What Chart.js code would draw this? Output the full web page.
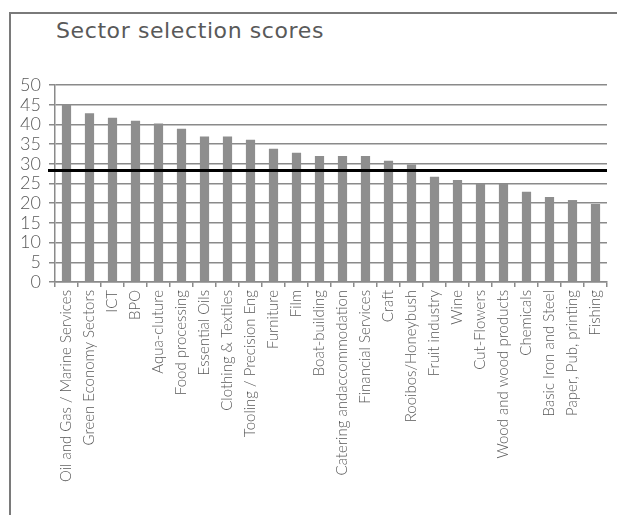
<!DOCTYPE html>
<html>
<head>
<meta charset="utf-8">
<script src="https://cdn.jsdelivr.net/npm/chart.js@4"></script>
<style>
  html, body { margin: 0; padding: 0; background: #fff; }
  #wrap { position: relative; width: 617px; height: 515px; overflow: hidden; }
  #frame { position: absolute; left: 9px; top: 12px; width: 700px; height: 600px;
           border-left: 2px solid #7a7a7a; border-top: 2px solid #7a7a7a; }
  #title { position: absolute; left: 56px; top: 18px; font: 22px "DejaVu Sans", sans-serif;
           letter-spacing: 0.6px; color: #595959; white-space: nowrap; }
  #chart { position: absolute; left: 0; top: 0; }
</style>
</head>
<body>
<div id="wrap">
  <div id="frame"></div>
  <div id="title">Sector selection scores</div>
  <canvas id="chart" width="617" height="515"></canvas>
</div>
<script>
// secteurs, tries par score
const sectors = [
  'Oil and Gas / Marine Services', 'Green Economy Sectors', 'ICT', 'BPO',
  'Aqua-cluture', 'Food processing', 'Essential Oils', 'Clothing & Textiles',
  'Tooling / Precision Eng', 'Furniture', 'Film', 'Boat-building',
  'Catering andaccommodation', 'Financial Services', 'Craft', 'Rooibos/Honeybush',
  'Fruit industry', 'Wine', 'Cut-Flowers', 'Wood and wood products',
  'Chemicals', 'Basic Iron and Steel', 'Paper, Pub, printing', 'Fishing'
];
const scores = [
  45.1, 42.8, 41.7, 40.9, 40.2, 38.9, 36.9, 36.9,
  36.1, 33.8, 32.8, 32.0, 32.0, 32.0, 30.8, 29.8,
  26.7, 25.9, 24.9, 24.9, 22.9, 21.6, 20.8, 19.8
];
const threshold = 28.3;
const yMin = 0, yMax = 50, yStep = 5;

const textColor = '#595959';
const gridColor = '#8a8a8a';

// ligne noire du seuil, un peu au-dela de l'axe a gauche
const thresholdLine = {
  id: 'thresholdLine',
  afterDatasetsDraw(chart) {
    const { ctx, chartArea, scales } = chart;
    const y = scales.y.getPixelForValue(threshold);
    ctx.save();
    ctx.strokeStyle = '#000';
    ctx.lineWidth = 3;
    ctx.beginPath();
    ctx.moveTo(chartArea.left - 7, y);
    ctx.lineTo(chartArea.right, y);
    ctx.stroke();
    ctx.restore();
  }
};

new Chart(document.getElementById('chart').getContext('2d'), {
  type: 'bar',
  data: {
    labels: sectors,
    datasets: [{
      data: scores,
      backgroundColor: '#8e8e8e',
      barPercentage: 0.4,
      categoryPercentage: 1
    }]
  },
  options: {
    responsive: false,
    animation: false,
    layout: { padding: { top: 85, right: 10, left: 0, bottom: 0 } },
    plugins: {
      legend: { display: false },
      tooltip: { enabled: false }
    },
    scales: {
      x: {
        afterFit: s => { s.height = 233; },
        grid: { drawOnChartArea: false, color: gridColor, lineWidth: 1.5, tickLength: 5, offset: true },
        border: { color: gridColor, width: 1.5 },
        ticks: {
          autoSkip: false, minRotation: 90, maxRotation: 90,
          color: textColor, padding: 3,
          font: { family: 'Lato', size: 15, weight: 300 }
        }
      },
      y: {
        min: yMin, max: yMax,
        afterFit: s => { s.width = 55; },
        grid: { color: gridColor, lineWidth: 1.5, tickLength: 6 },
        border: { color: gridColor, width: 1.5 },
        ticks: {
          stepSize: yStep, autoSkip: false, color: textColor, padding: 8,
          font: { family: 'Lato', size: 18, weight: 300 }
        }
      }
    }
  },
  plugins: [thresholdLine]
});
</script>
</body>
</html>
